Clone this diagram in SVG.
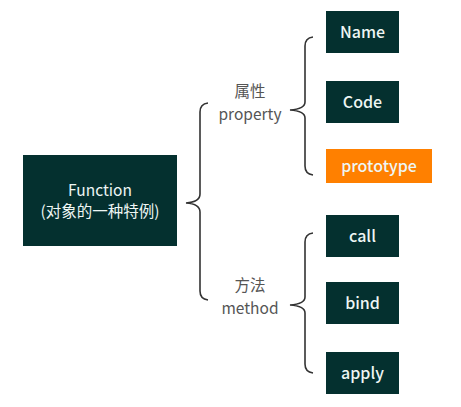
<svg xmlns="http://www.w3.org/2000/svg" width="461" height="407" viewBox="0 0 461 407">
<style>
.box{fill:#04302f}
.bt{font-family:"Noto Sans CJK SC","Open Sans",sans-serif;font-size:16px;font-weight:500;fill:#eef6f4;text-anchor:middle}
.ft{font-family:"Noto Sans CJK SC","Open Sans",sans-serif;font-size:15.5px;fill:#eef6f4;text-anchor:middle}
.lt{font-family:"Noto Sans CJK SC","Open Sans",sans-serif;font-size:15.5px;fill:#555;text-anchor:middle}
.br{fill:none;stroke:#333;stroke-width:1.6}
</style>
<rect width="461" height="407" fill="#fff"/>
<g id="connectors">
<path class="br" d="M208,103 Q200,104 200,112 L200,194 Q200,202 186,203 Q200,204 200,212 L200,291 Q200,299 208,300"/>
<path class="br" d="M313,37 Q305,38 305,46 L305,102 Q305,109 290,110 Q305,111 305,118 L305,166 Q305,174 313,175"/>
<path class="br" d="M313,233 Q305,234 305,242 L305,297 Q305,304 290,305 Q305,306 305,313 L305,364 Q305,372 313,373"/>
</g>
<g id="function"><rect class="box" x="23" y="155" width="154" height="91"/><text class="ft" x="100" y="196">Function</text><text class="ft" x="100" y="217">(对象的一种特例)</text></g>
<g id="property"><text class="lt" x="250" y="97">属性</text><text class="lt" x="250" y="120">property</text></g>
<g id="method"><text class="lt" x="250" y="291">方法</text><text class="lt" x="250" y="314">method</text></g>
<g id="name"><rect class="box" x="326" y="11" width="73" height="42"/><text class="bt" x="362.5" y="38">Name</text></g>
<g id="code"><rect class="box" x="326" y="81" width="73" height="42"/><text class="bt" x="362.5" y="108">Code</text></g>
<g id="prototype"><rect x="326" y="149" width="106" height="34" fill="#ff8000"/><text class="bt" x="379" y="171.5">prototype</text></g>
<g id="call"><rect class="box" x="326" y="215" width="73" height="42"/><text class="bt" x="362.5" y="242">call</text></g>
<g id="bind"><rect class="box" x="326" y="282" width="73" height="42"/><text class="bt" x="362.5" y="309">bind</text></g>
<g id="apply"><rect class="box" x="326" y="352" width="73" height="42"/><text class="bt" x="362.5" y="379">apply</text></g>
</svg>
